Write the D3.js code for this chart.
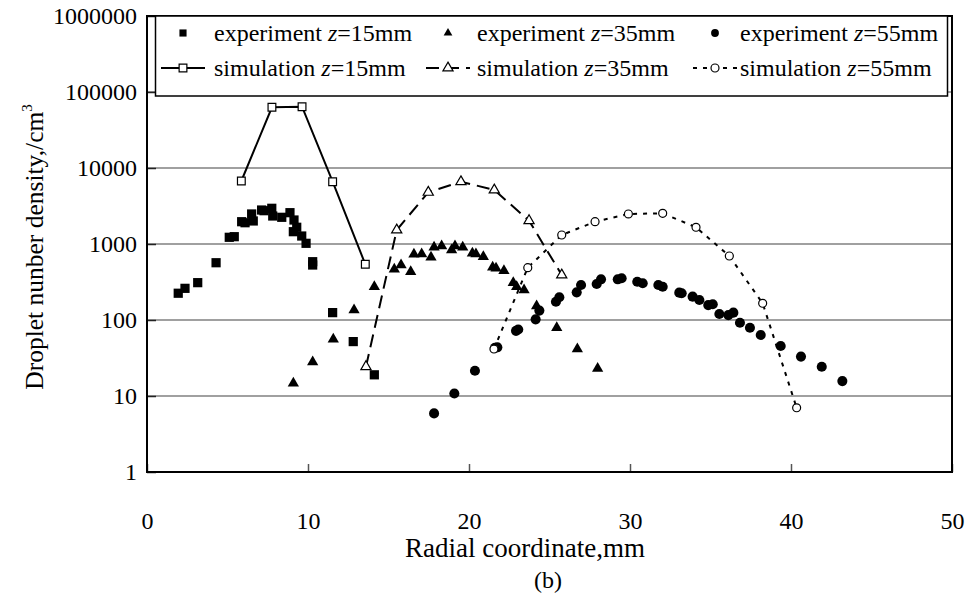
<!DOCTYPE html>
<html>
<head>
<meta charset="utf-8">
<script src="https://cdn.jsdelivr.net/npm/d3@7/dist/d3.min.js"></script>
<style>
  html, body { margin: 0; padding: 0; background: #fff; }
  svg { display: block; font-family: "Liberation Serif", "Times New Roman", serif; }
</style>
</head>
<body>
<svg id="chart" width="975" height="601"></svg>
<script>
// ---- data ----
const xTicks = [0, 10, 20, 30, 40, 50];
const yTicks = [1, 10, 100, 1000, 10000, 100000, 1000000];

const exp15X = [1.94, 2.36, 3.15, 4.29, 5.11, 5.42, 5.88, 6.09, 6.50, 6.60, 7.12, 7.27, 7.75, 7.81, 8.37, 8.88, 9.13, 9.30, 9.09, 9.61, 9.88, 10.29, 10.29, 11.53, 12.81, 14.12];
const exp15Y = [225, 261, 310, 567, 1225, 1248, 1965, 1905, 2483, 2009, 2800, 2743, 2950, 2336, 2245, 2583, 2069, 1660, 1452, 1274, 1021, 585, 529, 125, 52, 19];

const exp35X = [9.09, 10.29, 11.57, 12.86, 14.12, 15.36, 15.78, 16.38, 16.58, 17.06, 17.64, 17.83, 18.30, 18.92, 19.13, 19.61, 20.21, 20.43, 20.89, 21.47, 21.68, 22.17, 22.75, 22.96, 23.42, 24.20, 25.45, 26.73, 27.99];
const exp35Y = [14.7, 28, 56, 135, 274, 464, 529, 432, 732, 738, 668, 905, 941, 834, 941, 905, 754, 738, 681, 493, 479, 445, 310, 274, 248, 153, 79, 41.5, 23];

const exp55X = [17.83, 19.09, 20.37, 21.61, 21.76, 22.92, 23.06, 24.14, 24.37, 25.40, 25.61, 26.69, 26.96, 27.93, 28.20, 29.24, 29.48, 30.45, 30.79, 31.76, 32.03, 33.06, 33.21, 33.89, 34.31, 34.86, 35.14, 35.55, 36.11, 36.42, 36.83, 37.45, 38.12, 39.36, 40.62, 41.91, 43.19];
const exp55Y = [5.9, 10.8, 21.5, 43, 43.7, 72, 75, 102, 133, 174, 199, 231, 289, 298, 343, 343, 354, 319, 304, 289, 274, 229, 225, 203, 183, 157, 161, 120, 116, 125, 92, 79, 63.5, 45.5, 33, 24.3, 15.7];

const sim15X = [5.86, 7.76, 9.63, 11.53, 13.56];
const sim15Y = [6745, 63000, 64000, 6600, 541];

const sim35X = [13.60, 15.51, 17.47, 19.50, 21.57, 23.73, 25.76];
const sim35Y = [24.3, 1528, 4790, 6600, 5140, 2028, 391];

const sim55X = [21.55, 23.65, 25.76, 27.83, 29.90, 32.03, 34.10, 36.17, 38.24, 40.35];
const sim55Y = [41.5, 488, 1313, 1966, 2483, 2535, 1660, 695, 166, 7.0];

const legendLabels = ["experiment", "experiment", "experiment", "simulation", "simulation", "simulation"];
const legendZ = ["15mm", "35mm", "55mm", "15mm", "35mm", "55mm"];

// ---- layout ----
const FONT = '"Liberation Serif", "Times New Roman", serif';
const svg = d3.select("#chart");
const L = 147, R = 952, T = 16, B = 472;
const x = d3.scaleLinear().domain([0, 50]).range([L, R]);
const y = d3.scaleLog().domain([1, 1e6]).range([B, T]);

// gridlines
svg.append("g").selectAll("line").data(yTicks.slice(1, -1)).join("line")
  .attr("x1", L).attr("x2", R).attr("y1", d => y(d)).attr("y2", d => y(d))
  .attr("stroke", "#808080").attr("stroke-width", 1.5);

// axes
const xAxis = d3.axisBottom(x).tickValues(xTicks).tickSize(-8).tickPadding(40).tickFormat(d3.format("d"));
const gx = svg.append("g").attr("transform", `translate(0,${B})`).call(xAxis)
  .attr("font-family", FONT);
gx.select(".domain").remove();
gx.selectAll(".tick line").attr("stroke", "#555").attr("stroke-width", 1.5);
gx.selectAll("text").attr("font-size", 24).attr("fill", "#000").attr("font-family", FONT);

const yAxis = d3.axisLeft(y).tickValues(yTicks).tickSize(-9).tickPadding(10).tickFormat(d3.format("d"));
const gy = svg.append("g").attr("transform", `translate(${L},0)`).call(yAxis)
  .attr("font-family", FONT);
gy.select(".domain").remove();
gy.selectAll(".tick line").attr("stroke", "#222").attr("stroke-width", 1.5);
gy.selectAll("text").attr("font-size", 24).attr("fill", "#000").attr("font-family", FONT);

// plot frame
svg.append("rect").attr("x", L).attr("y", T).attr("width", R - L).attr("height", B - T)
  .attr("fill", "none").attr("stroke", "#000").attr("stroke-width", 2);

// axis titles
svg.append("text").attr("x", 525).attr("y", 557).attr("text-anchor", "middle")
  .attr("font-size", 27).text("Radial coordinate,mm");
svg.append("text").attr("x", 548).attr("y", 588).attr("text-anchor", "middle")
  .attr("font-size", 24).text("(b)");
const yt = svg.append("text").attr("transform", `translate(43,247) rotate(-90)`)
  .attr("text-anchor", "middle").attr("font-size", 25.5);
yt.append("tspan").text("Droplet nunber density,/cm");
yt.append("tspan").attr("font-size", 15).attr("dy", -11).text("3");

// series
const zip = (xs, ys) => xs.map((v, i) => [v, ys[i]]);
const line = d3.line().x(d => x(d[0])).y(d => y(d[1]));

const simSeries = [
  { data: zip(sim15X, sim15Y), dash: null, sym: d3.symbolSquare, size: 60 },
  { data: zip(sim35X, sim35Y), dash: "13,7", sym: d3.symbolTriangle, size: 45 },
  { data: zip(sim55X, sim55Y), dash: "4,6", sym: d3.symbolCircle, size: 50 }
];
const expSeries = [
  { data: zip(exp15X, exp15Y), sym: d3.symbolSquare, size: 85 },
  { data: zip(exp35X, exp35Y), sym: d3.symbolTriangle, size: 55 },
  { data: zip(exp55X, exp55Y), sym: d3.symbolCircle, size: 80 }
];

const plot = svg.append("g");
simSeries.forEach(s => {
  plot.append("path").datum(s.data).attr("d", line).attr("fill", "none")
    .attr("stroke", "#000").attr("stroke-width", 2)
    .attr("stroke-dasharray", s.dash);
});
expSeries.forEach(s => {
  plot.append("g").selectAll("path").data(s.data).join("path")
    .attr("transform", d => `translate(${x(d[0])},${y(d[1])})`)
    .attr("d", d3.symbol().type(s.sym).size(s.size)).attr("fill", "#000");
});
simSeries.forEach(s => {
  plot.append("g").selectAll("path").data(s.data).join("path")
    .attr("transform", d => `translate(${x(d[0])},${y(d[1])})`)
    .attr("d", d3.symbol().type(s.sym).size(s.size))
    .attr("fill", "#fff").attr("stroke", "#000").attr("stroke-width", 1.2);
});

// legend
const lg = svg.append("g");
lg.append("rect").attr("x", 155.5).attr("y", T).attr("width", 792).attr("height", 80)
  .attr("fill", "#fff").attr("stroke", "#000").attr("stroke-width", 1.5);
const colMarker = [183, 448, 715];
const colText = [214, 477, 740];
const rowY = [33, 68];
for (let i = 0; i < 6; i++) {
  const c = i % 3, r = Math.floor(i / 3);
  const mx = colMarker[c], my = rowY[r];
  if (r === 0) {
    lg.append("path").attr("transform", `translate(${mx},${my})`)
      .attr("d", d3.symbol().type(expSeries[c].sym).size(expSeries[c].size * 0.6)).attr("fill", "#000");
  } else {
    lg.append("line").attr("x1", mx - 22).attr("x2", mx + 22).attr("y1", my).attr("y2", my)
      .attr("stroke", "#000").attr("stroke-width", 2).attr("stroke-dasharray", simSeries[c].dash);
    lg.append("path").attr("transform", `translate(${mx},${my})`)
      .attr("d", d3.symbol().type(simSeries[c].sym).size(simSeries[c].size))
      .attr("fill", "#fff").attr("stroke", "#000").attr("stroke-width", 1.2);
  }
  const t = lg.append("text").attr("x", colText[c]).attr("y", my + 8).attr("font-size", 24);
  t.append("tspan").text(legendLabels[i] + " ");
  t.append("tspan").attr("font-style", "italic").text("z");
  t.append("tspan").text("=" + legendZ[i]);
}
</script>
</body>
</html>
